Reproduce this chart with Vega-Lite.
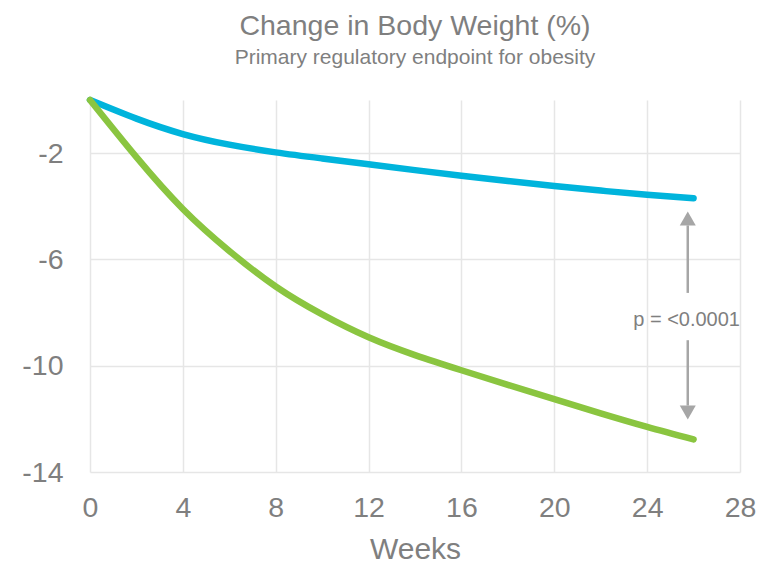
{
  "$schema": "https://vega.github.io/schema/vega-lite/v6.json",
  "width": 650,
  "height": 372,
  "autosize": {"type": "none"},
  "padding": {"left": 90, "top": 100, "right": 27, "bottom": 97},
  "background": "white",
  "title": {
    "text": "Change in Body Weight (%)",
    "subtitle": "Primary regulatory endpoint for obesity",
    "anchor": "middle",
    "font": "Liberation Sans",
    "fontSize": 28.5,
    "fontWeight": "normal",
    "color": "#7f7f7f",
    "subtitleFont": "Liberation Sans",
    "subtitleFontSize": 21,
    "subtitleColor": "#7f7f7f",
    "subtitlePadding": 7,
    "offset": 19
  },
  "config": {
    "view": {"stroke": null},
    "axis": {"labelFont": "Liberation Sans", "titleFont": "Liberation Sans", "labelColor": "#7f7f7f", "titleColor": "#7f7f7f", "gridColor": "#e6e6e6", "gridWidth": 1.5, "domain": false, "ticks": false, "labelFlush": false}
  },
  "datasets": {
    "curves": [
      {"week": 0, "change": 0, "group": "Placebo"},
      {"week": 2, "change": -0.7, "group": "Placebo"},
      {"week": 4, "change": -1.28, "group": "Placebo"},
      {"week": 6, "change": -1.68, "group": "Placebo"},
      {"week": 8, "change": -1.97, "group": "Placebo"},
      {"week": 10, "change": -2.2, "group": "Placebo"},
      {"week": 12, "change": -2.42, "group": "Placebo"},
      {"week": 14, "change": -2.64, "group": "Placebo"},
      {"week": 16, "change": -2.85, "group": "Placebo"},
      {"week": 18, "change": -3.05, "group": "Placebo"},
      {"week": 20, "change": -3.24, "group": "Placebo"},
      {"week": 22, "change": -3.41, "group": "Placebo"},
      {"week": 24, "change": -3.57, "group": "Placebo"},
      {"week": 26, "change": -3.7, "group": "Placebo"},
      {"week": 0, "change": 0, "group": "Treatment"},
      {"week": 2, "change": -2.15, "group": "Treatment"},
      {"week": 4, "change": -4.1, "group": "Treatment"},
      {"week": 6, "change": -5.68, "group": "Treatment"},
      {"week": 8, "change": -7.02, "group": "Treatment"},
      {"week": 10, "change": -8.07, "group": "Treatment"},
      {"week": 12, "change": -8.93, "group": "Treatment"},
      {"week": 14, "change": -9.6, "group": "Treatment"},
      {"week": 16, "change": -10.17, "group": "Treatment"},
      {"week": 18, "change": -10.72, "group": "Treatment"},
      {"week": 20, "change": -11.26, "group": "Treatment"},
      {"week": 22, "change": -11.79, "group": "Treatment"},
      {"week": 24, "change": -12.3, "group": "Treatment"},
      {"week": 26, "change": -12.77, "group": "Treatment"}
    ],
    "arrows": [
      {"week": 25.75, "from": -7.26, "to": -4.72},
      {"week": 25.75, "from": -9.04, "to": -11.5}
    ],
    "heads": [
      {"week": 25.75, "y": -4.46, "shape": "triangle-up"},
      {"week": 25.75, "y": -11.76, "shape": "triangle-down"}
    ],
    "label": [
      {"week": 25.7, "y": -8.29, "text": "p = <0.0001"}
    ]
  },
  "layer": [
    {
      "data": {"name": "curves"},
      "mark": {"type": "line", "strokeWidth": 6.5, "interpolate": "natural", "strokeCap": "round"},
      "encoding": {
        "x": {"field": "week", "type": "quantitative", "scale": {"domain": [0, 28], "nice": false},
          "axis": {"values": [0, 4, 8, 12, 16, 20, 24, 28], "title": "Weeks", "labelFontSize": 28.5, "titleFontSize": 30, "labelPadding": 21, "titlePadding": 13, "titleFontWeight": "normal"}},
        "y": {"field": "change", "type": "quantitative", "scale": {"domain": [-14, 0], "nice": false},
          "axis": {"values": [-2, -6, -10, -14], "labelExpr": "'' + datum.value", "title": null, "labelFontSize": 28.5, "labelPadding": 27}},
        "color": {"field": "group", "type": "nominal", "scale": {"domain": ["Placebo", "Treatment"], "range": ["#00b4dc", "#8ac540"]}, "legend": null}
      }
    },
    {
      "data": {"name": "arrows"},
      "mark": {"type": "rule", "color": "#a6a6a6", "strokeWidth": 2.5},
      "encoding": {
        "x": {"field": "week", "type": "quantitative"},
        "y": {"field": "from", "type": "quantitative"},
        "y2": {"field": "to"}
      }
    },
    {
      "data": {"name": "heads"},
      "mark": {"type": "point", "filled": true, "color": "#a6a6a6", "size": 256, "opacity": 1},
      "encoding": {
        "x": {"field": "week", "type": "quantitative"},
        "y": {"field": "y", "type": "quantitative"},
        "shape": {"field": "shape", "type": "nominal", "scale": null}
      }
    },
    {
      "data": {"name": "label"},
      "mark": {"type": "text", "font": "Liberation Sans", "fontSize": 20, "color": "#7f7f7f", "align": "center", "baseline": "middle"},
      "encoding": {
        "x": {"field": "week", "type": "quantitative"},
        "y": {"field": "y", "type": "quantitative"},
        "text": {"field": "text"}
      }
    }
  ]
}
